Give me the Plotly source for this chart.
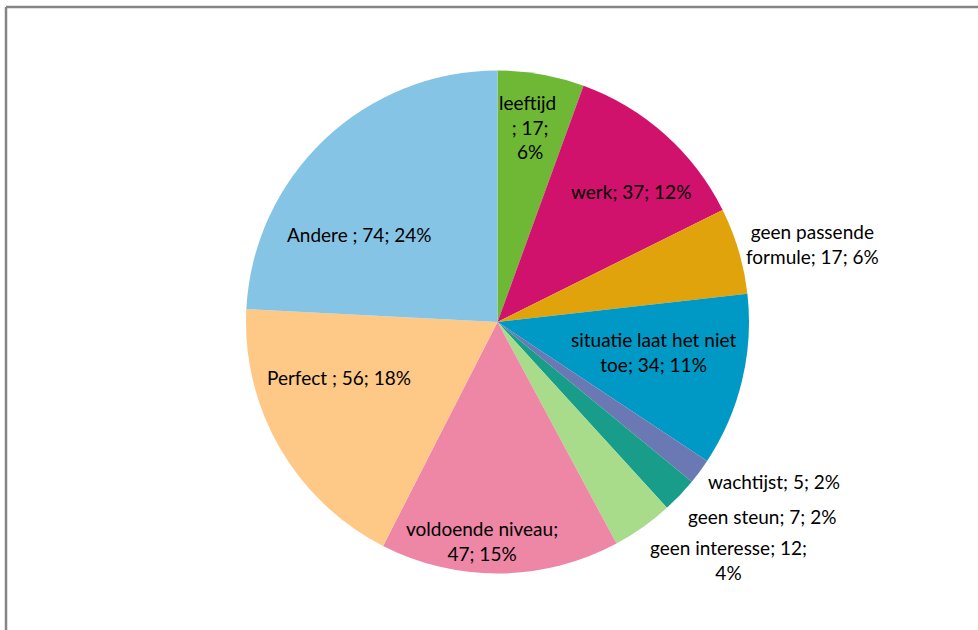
import plotly.graph_objects as go

# Reasons, counts and slice colours (clockwise from 12 o'clock)
categories = ["leeftijd ", "werk", "geen passende formule", "situatie laat het niet toe",
              "wachtijst", "geen steun", "geen interesse", "voldoende niveau",
              "Perfect ", "Andere "]
counts = [17, 37, 17, 34, 5, 7, 12, 47, 56, 74]
colors = ["#6FB835", "#D0126D", "#E1A30B", "#0099C5", "#6A79B3",
          "#179D89", "#A8DC8B", "#EE86A6", "#FEC986", "#86C4E5"]

# Line breaks used for each data label
label_templates = [
    "{n}<br>; {v};<br>{p}%",
    "{n}; {v}; {p}%",
    "geen passende<br>formule; {v}; {p}%",
    "situatie laat het niet<br>toe; {v}; {p}%",
    "{n}; {v}; {p}%",
    "{n}; {v}; {p}%",
    "{n}; {v};<br>{p}%",
    "{n};<br>{v}; {p}%",
    "{n}; {v}; {p}%",
    "{n}; {v}; {p}%",
]
# Label anchor positions in pixels (x, y from top)
label_pos = [(530, 127), (631, 191), (812, 244), (653, 352), (774, 482),
             (762, 516), (728, 560), (482, 541), (339, 377), (359, 234)]

W, H = 978, 630
total = sum(counts)

fig = go.Figure(go.Pie(
    labels=categories,
    values=counts,
    sort=False,
    direction="clockwise",
    rotation=0,
    marker=dict(colors=colors, line=dict(width=0)),
    textinfo="none",
    hoverinfo="label+value+percent",
    domain=dict(x=[246 / W, 749 / W], y=[(308 - 252) / H, (308 + 252) / H]),
    showlegend=False,
))

for name, v, tpl, (px, py) in zip(categories, counts, label_templates, label_pos):
    pct = round(100 * v / total)
    fig.add_annotation(
        x=px / W, y=1 - py / H, xref="paper", yref="paper",
        text=tpl.format(n=name, v=v, p=pct),
        showarrow=False, align="center", xanchor="center", yanchor="middle",
        font=dict(family="Lato, Liberation Sans, sans-serif", size=19, color="#000000"),
    )

# Chart frame (top and left edges)
frame = dict(color="#858585", width=2.5)
fig.add_shape(type="line", xref="paper", yref="paper",
              x0=6 / W, x1=1, y0=1 - 7 / H, y1=1 - 7 / H, line=frame)
fig.add_shape(type="line", xref="paper", yref="paper",
              x0=6 / W, x1=6 / W, y0=0, y1=1 - 7 / H, line=frame)

fig.update_layout(
    width=W, height=H,
    margin=dict(l=0, r=0, t=0, b=0),
    paper_bgcolor="white", plot_bgcolor="white",
)

fig.write_html("out.html")
